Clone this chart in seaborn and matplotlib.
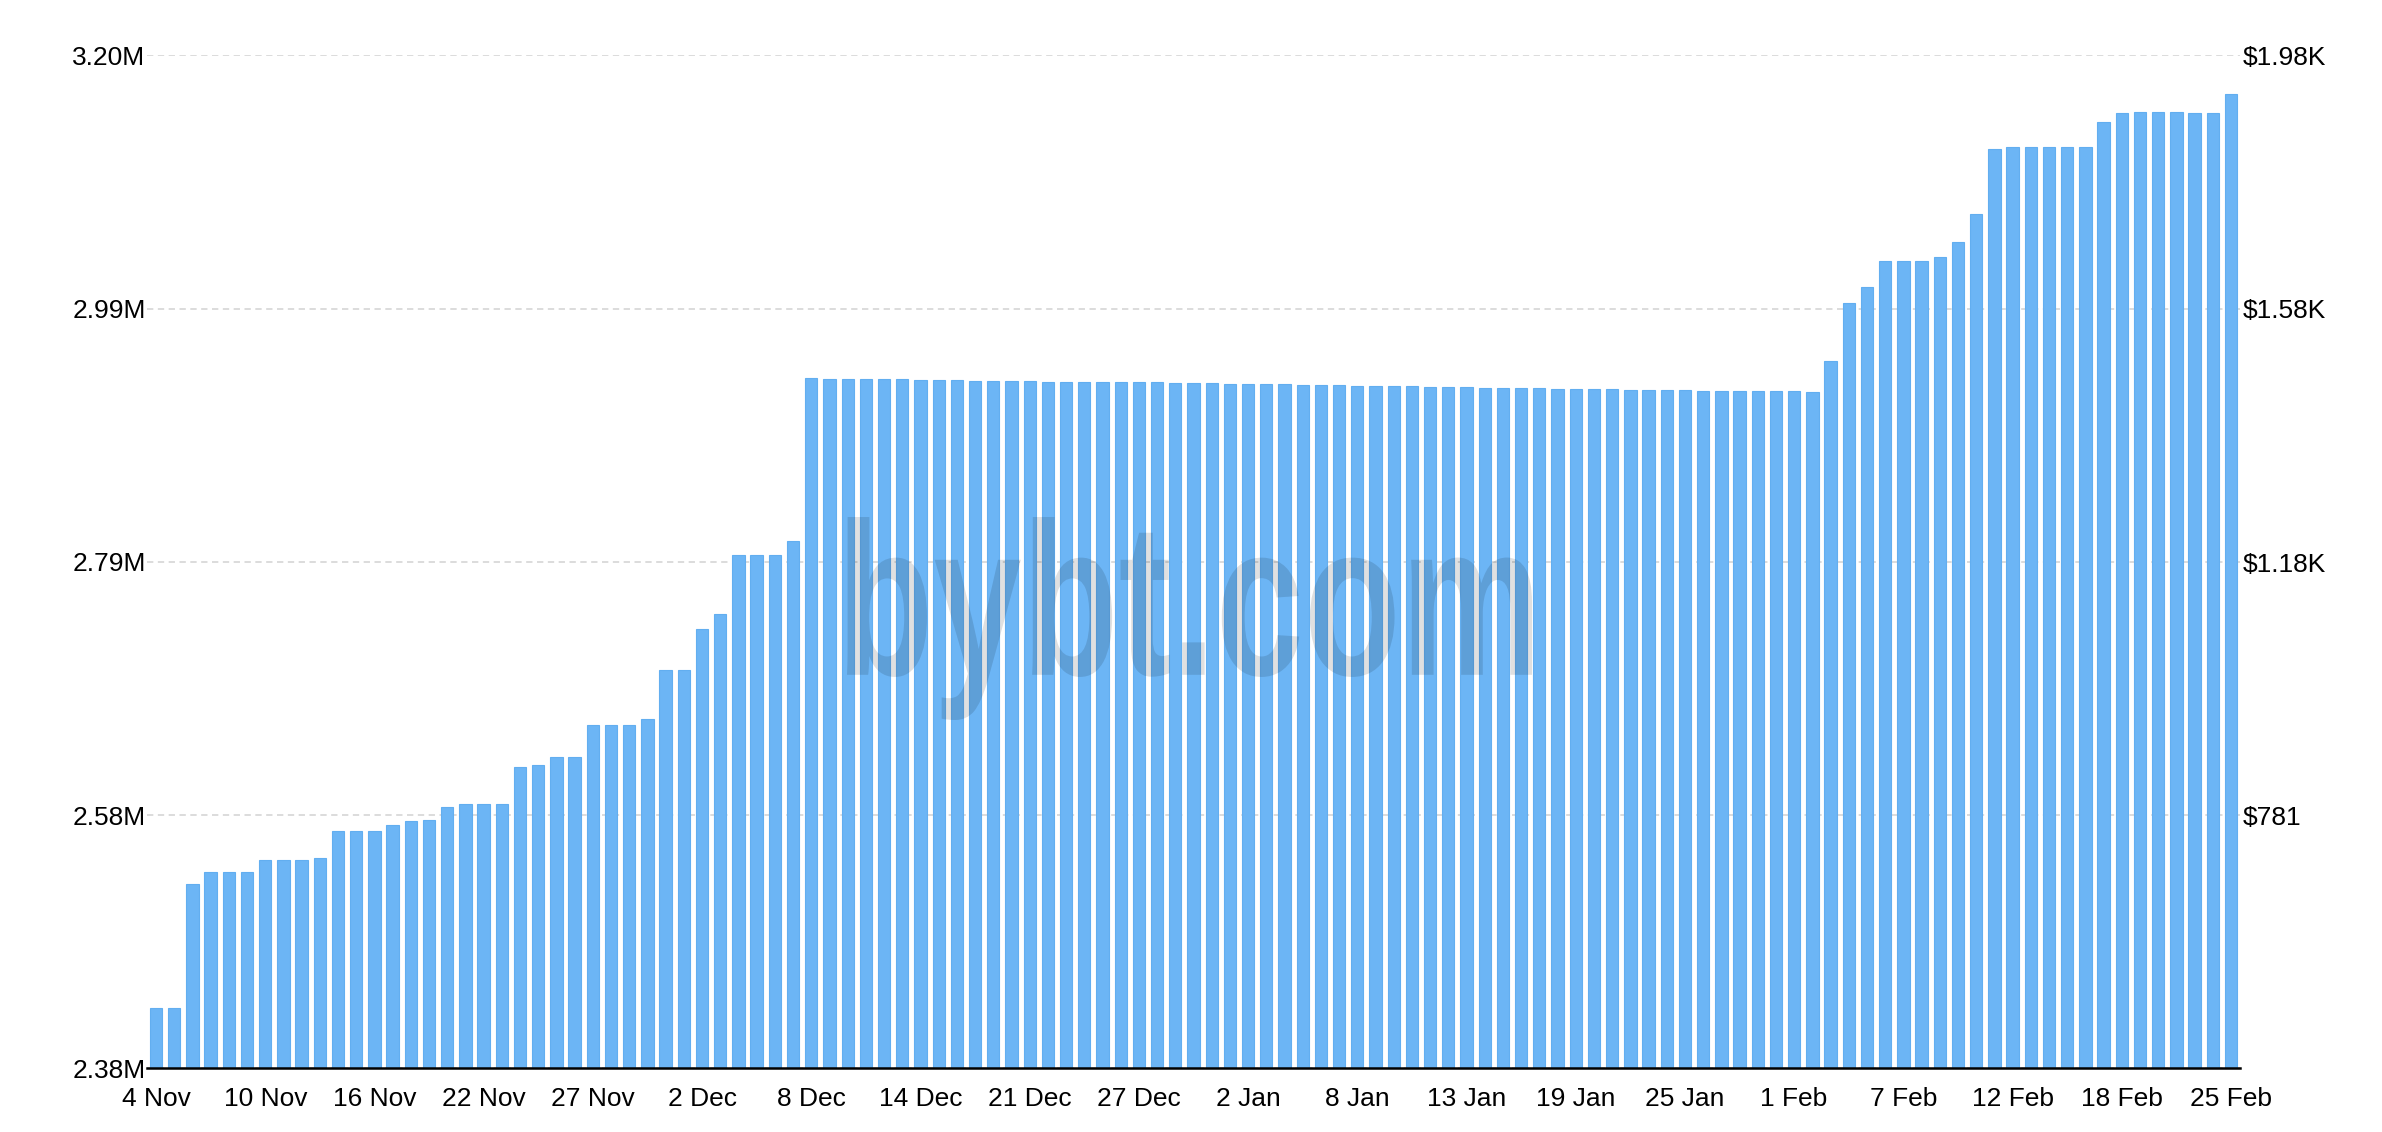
import numpy as np
import matplotlib
matplotlib.use('Agg')
import matplotlib.pyplot as plt
import seaborn as sns
from matplotlib.textpath import TextPath
from matplotlib.patches import PathPatch
from matplotlib.font_manager import FontProperties
from matplotlib.transforms import Affine2D

sns.set_style('white')
plt.rcParams['font.family'] = ['Liberation Sans', 'DejaVu Sans']

# values in millions, one bar per day
holdings = [
    2.429, 2.429, 2.529, 2.539, 2.539, 2.539, 2.549, 2.549, 2.549, 2.550,
    2.572, 2.572, 2.572, 2.5775, 2.580, 2.5815, 2.592, 2.594, 2.594, 2.594,
    2.624, 2.6255, 2.632, 2.632, 2.658, 2.658, 2.658, 2.663, 2.7025, 2.7025,
    2.736, 2.748, 2.796, 2.796, 2.796, 2.807,
    2.9390, 2.9385, 2.9385, 2.9382, 2.9382, 2.9382, 2.9376, 2.9374, 2.9371, 2.9368,
    2.9368, 2.9368, 2.9368, 2.9360, 2.9360, 2.9360, 2.9357, 2.9357, 2.9357, 2.9355,
    2.9349, 2.9347, 2.9347, 2.9344, 2.9344, 2.9344, 2.9344, 2.9336, 2.9333, 2.9333,
    2.9328, 2.9328, 2.9328, 2.9328, 2.9320, 2.9317, 2.9314,
    2.9312, 2.9312, 2.9312, 2.9312, 2.9304, 2.9304, 2.9301, 2.9298, 2.9296, 2.9296,
    2.9296, 2.9290, 2.9288, 2.9288, 2.9285, 2.9282, 2.9282, 2.9282, 2.9277, 2.9525,
    2.9996, 3.0123, 3.0337, 3.0337, 3.0337, 3.0366, 3.0491, 3.0713, 3.1243, 3.1261,
    3.1261, 3.1261, 3.1261, 3.1261, 3.1464, 3.1535, 3.1540, 3.1540, 3.1540, 3.1535,
    3.1532, 3.1689,
]

date_labels = ['4 Nov', '10 Nov', '16 Nov', '22 Nov', '27 Nov', '2 Dec', '8 Dec',
               '14 Dec', '21 Dec', '27 Dec', '2 Jan', '8 Jan', '13 Jan', '19 Jan',
               '25 Jan', '1 Feb', '7 Feb', '12 Feb', '18 Feb', '25 Feb']

left_ticks = [2.38, 2.585, 2.79, 2.995, 3.20]
left_labels = ['2.38M', '2.58M', '2.79M', '2.99M', '3.20M']
price_ticks = [781, 1180, 1580, 1980]
price_labels = ['$781', '$1.18K', '$1.58K', '$1.98K']

values = np.array(holdings) * 1e6
days = np.arange(len(values))

fig = plt.figure(figsize=(23.82, 11.32), dpi=100)
ax = fig.add_axes([0.0617, 0.0561, 0.8787, 0.8949])

sns.barplot(x=days, y=values, color='#6cb5f5', saturation=1, width=0.68,
            edgecolor='#62aef0', linewidth=0.8, ax=ax)

ax.set_xlim(-0.5, len(values) - 0.5)
ax.set_ylim(2.38e6, 3.20e6)
ax.set_yticks(np.array(left_ticks) * 1e6)
ax.set_yticklabels(left_labels)
ax.set_xticks(days[::6])
ax.set_xticklabels(date_labels)
ax.set_xlabel('')
ax.set_ylabel('')
ax.tick_params(axis='both', length=0, labelsize=19, colors='black')
ax.tick_params(axis='x', pad=13)
ax.tick_params(axis='y', pad=1)

ax.yaxis.grid(True, linestyle=(0, (3.5, 2.5)), color='#d9d9d9', linewidth=1.3)
ax.xaxis.grid(False)
ax.set_axisbelow(True)
for s in ['top', 'right', 'left']:
    ax.spines[s].set_visible(False)
ax.spines['bottom'].set_color('black')
ax.spines['bottom'].set_linewidth(1.8)

ax2 = ax.twinx()
ax2.set_ylim(381, 1980)
ax2.set_yticks(price_ticks)
ax2.set_yticklabels(price_labels)
ax2.tick_params(axis='y', length=0, labelsize=19, colors='black', pad=2)
for s in ax2.spines.values():
    s.set_visible(False)
ax2.grid(False)

# watermark
tp = TextPath((0, 0), 'bybt.com', size=100,
              prop=FontProperties(family='Liberation Sans', weight='bold'))
ext = tp.get_extents()
x0, x1 = 847, 1532
ytop, ybot = 1132 - 517, 1132 - 720
tr = (Affine2D().translate(-ext.x0, -ext.y0)
      .scale((x1 - x0) / ext.width, (ytop - ybot) / ext.height)
      .translate(x0, ybot))
fig.add_artist(PathPatch(tp, transform=tr, facecolor='black', edgecolor='none',
                         alpha=0.12, zorder=5))

fig.savefig('out.png', dpi=100)
